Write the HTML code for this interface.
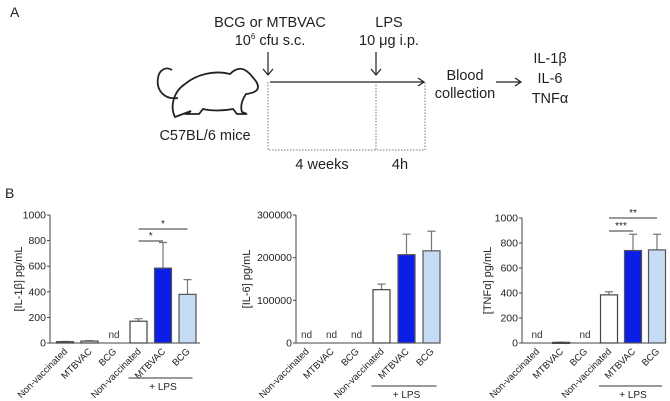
<!DOCTYPE html>
<html><head><meta charset="utf-8"><style>
body{margin:0;background:#fff}
svg{font-family:"Liberation Sans",sans-serif;display:block}
</style></head><body>
<svg id="fig" width="670" height="401" viewBox="0 0 670 401">
<g fill="#222">
<text x="10" y="17" font-size="14">A</text>
<text x="270" y="27" font-size="14.5" text-anchor="middle">BCG or MTBVAC</text>
<text x="270" y="45" font-size="14.5" text-anchor="middle">10<tspan font-size="8" dy="-6">6</tspan><tspan dy="6"> cfu s.c.</tspan></text>
<text x="389" y="27" font-size="14.5" text-anchor="middle">LPS</text>
<text x="389" y="45" font-size="14.5" text-anchor="middle">10 μg i.p.</text>
<g stroke="#222" fill="none" stroke-width="1.2">
<path d="M268 52V75M263 69l5 6 5-6"/>
<path d="M376 52V75M371 69l5 6 5-6"/>
<path d="M270 82H424M418 78l6 4-6 4"/>
<path d="M496 82H520M515 78l6 4-6 4"/>
<path d="M268 82V150H425V82M376 82V150" stroke-dasharray="1.5 1.5" stroke-width="1" stroke="#777"/>
<path d="M175 117c-5-10-2-25 10-33c12-10 30-14 45-10c8-8 14-6 20 0c3 4 8 8 8 13c0 4-4 6-12 7c-4 6-6 12-4 18l5 2h-10l-4-5c-10 2-22 2-30 0l-4 5h-12l4-3zM178 98c-14 2-22-8-20-20c1-8 8-12 14-8" stroke-width="1.8"/>
</g>
<text x="205" y="140" font-size="14.5" text-anchor="middle">C57BL/6 mice</text>
<text x="322" y="169" font-size="14.5" text-anchor="middle">4 weeks</text>
<text x="400" y="169" font-size="14.5" text-anchor="middle">4h</text>
<text x="465" y="80" font-size="14.5" text-anchor="middle">Blood</text>
<text x="465" y="98" font-size="14.5" text-anchor="middle">collection</text>
<text x="550" y="63" font-size="14.5" text-anchor="middle">IL-1β</text>
<text x="550" y="83" font-size="14.5" text-anchor="middle">IL-6</text>
<text x="550" y="103" font-size="14.5" text-anchor="middle">TNFα</text>
</g>
<text x="5" y="198" font-size="14" fill="#222">B</text>
</svg>
<script>
const categories=["Non-vaccinated","MTBVAC","BCG","Non-vaccinated","MTBVAC","BCG"];
const fills=["#fff","#fff","#fff","#fff","#0a1ee6","#c6dcf5"];
const il1bValues=[10,15,null,170,585,380];
const il1bErrors=[2,3,null,20,200,115];
const il1bTicks=[0,200,400,600,800,1000];
const il6Values=[null,null,null,125000,207000,216000];
const il6Errors=[null,null,null,13000,48000,46000];
const il6Ticks=[0,100000,200000,300000];
const tnfValues=[null,5,null,385,740,745];
const tnfErrors=[null,1,null,25,130,125];
const tnfTicks=[0,200,400,600,800,1000];
const il1bSig=[[3,4,"*"],[3,5,"*"]];
const tnfSig=[[3,4,"***"],[3,5,"**"]];
const NS="http://www.w3.org/2000/svg";
const svg=document.getElementById('fig');
function mk(tag,attrs,parent,text){const e=document.createElementNS(NS,tag);for(const k in attrs)e.setAttribute(k,attrs[k]);if(text!==undefined)e.textContent=text;parent.appendChild(e);return e;}
function chart(o){
 const g=mk('g',{},svg);
 
 
 const max=o.ticks[o.ticks.length-1];
 const y=v=>o.y0-(v/max)*(o.y0-o.yTop);
 const x=i=>o.x1+i*o.step;
 const ax=mk('path',{d:`M${o.ax} ${o.yTop}V${o.y0}H${o.axEnd}`,stroke:'#444',fill:'none','stroke-width':1},g);
 
 
 o.ticks.forEach(t=>{
  const tk=mk('path',{d:`M${o.ax-3} ${y(t)}H${o.ax}`,stroke:'#444'},g);
  
  
  const tl=mk('text',{x:o.ax-4,y:y(t)+3.5,'font-size':10.5,'text-anchor':'end',fill:'#222'},g,String(t));
  
  
 });
 const yl=mk('text',{transform:`translate(${o.labX},${(o.yTop+o.y0)/2}) rotate(-90)`,'font-size':11,'text-anchor':'middle',fill:'#222'},g,o.label);
 
 
 const bw=17;
 categories.forEach((c,i)=>{
  const cx=x(i),v=o.values[i];
  if(v===null){
   const nd=mk('text',{x:cx,y:o.y0-5,'font-size':10,'text-anchor':'middle',fill:'#333'},g,'nd');
   
   
  } else {
   const e=o.errors[i];
   const eb=mk('path',{d:`M${cx} ${y(v)}V${y(v+e)}M${cx-4} ${y(v+e)}H${cx+4}`,stroke:'#777','stroke-width':1.2,fill:'none'},g);
   
   
   const b=mk('rect',{x:cx-bw/2,y:y(v),width:bw,height:Math.max(o.y0-y(v),1),fill:fills[i],stroke:i<4?'#444':'#555','stroke-width':1.2},g);
   
   
  }
  const cl=mk('text',{transform:`translate(${cx+3},${o.y0+9}) rotate(-45)`,'font-size':9.5,'text-anchor':'end',fill:'#222'},g,c);
  
  
 });
 const ll=mk('path',{d:`M${x(3)-10} ${o.lpsY}H${x(5)+5}`,stroke:'#333'},g);
 
 
 const lt=mk('text',{x:(x(3)+x(5))/2,y:o.lpsY+12,'font-size':10,'text-anchor':'middle',fill:'#222'},g,'+ LPS');
 
 
 (o.sig||[]).forEach((s,k)=>{
  const sy=o.sigY[k];
  const sl=mk('path',{d:`M${x(s[0])} ${sy}H${x(s[1])}`,stroke:'#333'},g);
  
  
  const st=mk('text',{x:(x(s[0])+x(s[1]))/2,y:sy-2,'font-size':10,'text-anchor':'middle',fill:'#222'},g,s[2]);
  
  
 });
}
chart({name:'il1b-chart',values:il1bValues,errors:il1bErrors,ticks:il1bTicks,label:'[IL-1β] pg/mL',ax:50,axEnd:200,yTop:215,y0:343,x1:65,step:24.5,labX:22,lpsY:378,sig:il1bSig,sigY:[241,229]});
chart({name:'il6-chart',values:il6Values,errors:il6Errors,ticks:il6Ticks,label:'[IL-6] pg/mL',ax:296,axEnd:440,yTop:215,y0:343,x1:306.5,step:25,labX:250,lpsY:386});
chart({name:'tnfa-chart',values:tnfValues,errors:tnfErrors,ticks:tnfTicks,label:'[TNFα] pg/mL',ax:522,axEnd:666,yTop:218,y0:343,x1:537,step:24,labX:491,lpsY:386,sig:tnfSig,sigY:[231,218]});
</script>
</body></html>
